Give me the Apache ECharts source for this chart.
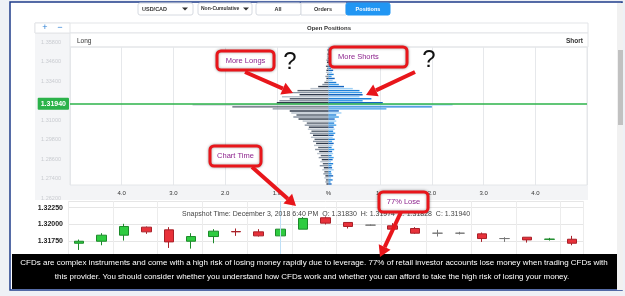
<!DOCTYPE html>
<html><head><meta charset="utf-8">
<script src="https://cdn.jsdelivr.net/npm/echarts@6/dist/echarts.min.js"></script>
<style>html,body{margin:0;padding:0;background:#eef1f6;}#c{width:625px;height:296px;}</style>
</head><body><div id="c"></div>
<script>
// ---------- DATA ----------
const priceLevels = ['1.27000','1.27125','1.27250','1.27375','1.27500','1.27625','1.27750','1.27875','1.28000','1.28125',
 '1.28250','1.28375','1.28500','1.28625','1.28750','1.28875','1.29000','1.29125','1.29250','1.29375',
 '1.29500','1.29625','1.29750','1.29875','1.30000','1.30125','1.30250','1.30375','1.30500','1.30625',
 '1.30750','1.30875','1.31000','1.31125','1.31250','1.31375','1.31500','1.31625','1.31750','1.31875',
 '1.32000','1.32125','1.32250','1.32375','1.32500','1.32625','1.32750','1.32875','1.33000','1.33125',
 '1.33250','1.33375','1.33500','1.33625','1.33750','1.33875','1.34000','1.34125','1.34250','1.34375',
 '1.34500','1.34625','1.34750','1.34875','1.35000','1.35125','1.35250','1.35375'];
const longPct = [0.04,0.06,0.05,0.08,0.06,0.10,0.08,0.12,0.09,0.17,
 0.11,0.16,0.13,0.19,0.15,0.22,0.18,0.26,0.20,0.28,
 0.24,0.30,0.27,0.34,0.30,0.36,0.33,0.40,0.38,0.46,
 0.42,0.50,0.58,0.68,0.62,0.72,0.75,1.08,1.86,2.63,
 1.00,0.95,0.75,0.90,0.56,0.75,0.60,0.35,0.20,0.12,
 0.08,0.05,0.04,0.06,0.03,0.05,0.04,0.03,0.05,0.02,
 0.03,0.04,0.02,0.03,0.02,0.01,0.02,0.01];
const shortPct = [0.06,0.04,0.08,0.05,0.09,0.06,0.05,0.10,0.07,0.06,
 0.09,0.05,0.08,0.10,0.06,0.09,0.07,0.11,0.06,0.08,
 0.10,0.07,0.12,0.08,0.10,0.13,0.09,0.12,0.10,0.15,
 0.11,0.15,0.12,0.20,0.15,0.25,0.20,1.12,2.00,2.40,
 1.05,0.66,0.83,0.60,0.66,0.65,0.60,0.47,0.30,0.20,
 0.15,0.08,0.12,0.06,0.10,0.07,0.09,0.05,0.08,0.06,
 0.10,0.05,0.07,0.09,0.06,0.08,0.05,0.07];
const priceTicks = ['1.26200','1.27400','1.28600','1.29800','1.31000','1.32200','1.33400','1.34600','1.35800'];
const pctLabels = ['','4.0','3.0','2.0','1.0','%','1.0','2.0','3.0','4.0',''];
const currentPrice = 1.31940;
const currentPriceLabel = '1.31940';

const candleTimes = ['20:00','21:00','22:00','23:00','00:00','01:00','02:00','03:00','04:00','05:00','06:00','07:00',
 '08:00','09:00','10:00','11:00','12:00','13:00','14:00','15:00','16:00','17:00','18:00'];
const candleOpen  = [1.3172,1.3175,1.3184,1.3196,1.3192,1.3175,1.3182,1.31895,1.3189,1.3183,1.3193,1.3210,1.3203,1.3199,1.3198,1.3194,1.3187,1.3187,1.3186,1.3179,1.3181,1.31778,1.3178];
const candleClose = [1.3175,1.3184,1.3197,1.3189,1.3174,1.3182,1.3190,1.3189,1.3183,1.3193,1.3209,1.3202,1.3197,1.3199,1.3193,1.3187,1.3187,1.3187,1.3179,1.3179,1.3177,1.31782,1.3172];
const candleLow   = [1.3162,1.3169,1.3176,1.3186,1.3165,1.3164,1.3172,1.3183,1.3182,1.3181,1.3193,1.3200,1.3194,1.3198,1.3193,1.3186,1.3182,1.3185,1.3174,1.3174,1.3173,1.3176,1.3169];
const candleHigh  = [1.31775,1.3187,1.3201,1.3197,1.3196,1.3187,1.3193,1.3194,1.3193,1.3197,1.3211,1.3212,1.3203,1.3200,1.3202,1.3196,1.3192,1.3189,1.3188,1.3181,1.3181,1.3180,1.3183];
const snapshotText = 'Snapshot Time: December 3, 2018 6:40 PM  O: 1.31830  H: 1.31974  L: 1.31828  C: 1.31940';
const disclaimer1 = 'CFDs are complex instruments and come with a high risk of losing money rapidly due to leverage. 77% of retail investor accounts lose money when trading CFDs with';
const disclaimer2 = 'this provider. You should consider whether you understand how CFDs work and whether you can afford to take the high risk of losing your money.';

// ---------- BUILD ----------
const FF = '"Liberation Sans", Arial, sans-serif';
const longColors = ['#2f3a4b','#8a95a3','#56616f','#b9c2cc'];
const shortColors = ['#1565c0','#3c9de8','#1e80d8','#9dd0f6'];
const RED = '#e8161b';

const candleData = candleOpen.map((o, i) => {
  const item = { value: [o, candleClose[i], candleLow[i], candleHigh[i]] };
  if (o === candleClose[i]) item.itemStyle = { color: '#888', color0: '#888', borderColor: '#777', borderColor0: '#777' };
  return item;
});

function T(x, y, text, o) {
  o = o || {};
  return { type: 'text', x: x, y: y, z: o.z || 50, silent: true,
    style: { text: text, fill: o.fill || '#333', font: (o.weight || 'normal') + ' ' + (o.size || 7) + 'px ' + FF,
      align: o.align || 'left', verticalAlign: 'middle', textAlign: o.align || 'left', textVerticalAlign: 'middle' } };
}
function R(x, y, w, h, fill, stroke, o) {
  o = o || {};
  return { type: 'rect', z: o.z === undefined ? -5 : o.z, silent: true, shape: { x: x, y: y, width: w, height: h, r: o.r || 0 },
    style: { fill: fill || 'none', stroke: stroke || 'none', lineWidth: o.lw || 1, shadowBlur: o.sb || 0, shadowColor: o.sc || 'transparent' } };
}
function arrow(x1, y1, x2, y2) {
  const a = Math.atan2(y2 - y1, x2 - x1), L = 11, W = 6.5;
  const bx = x2 - L * Math.cos(a), by = y2 - L * Math.sin(a);
  const px = -Math.sin(a) * W, py = Math.cos(a) * W;
  return [
    { type: 'line', z: 100, silent: true, shape: { x1: x1, y1: y1, x2: bx, y2: by }, style: { stroke: RED, lineWidth: 4 } },
    { type: 'polygon', z: 100, silent: true, shape: { points: [[x2, y2], [bx + px, by + py], [bx - px, by - py]] }, style: { fill: RED } }
  ];
}
function note(x, y, w, h, text, align) {
  return [
    R(x, y, w, h, '#fff', RED, { z: 100, r: 4, lw: 3, sb: 3, sc: 'rgba(0,0,0,0.35)' }),
    T(align === 'left' ? x + 8 : x + w / 2, y + h / 2, text, { z: 101, fill: '#8e248e', size: 7.5, align: align || 'center' })
  ];
}
function tri(x, y) {
  return { type: 'polygon', z: 50, silent: true, shape: { points: [[x - 3, y - 1.5], [x + 3, y - 1.5], [x, y + 1.5]] }, style: { fill: '#333' } };
}

const graphics = [
  R(10, 2, 612, 288, '#ffffff', '#1f3d8a', { z: -10, lw: 1.5 }),
  // top controls
  R(138, 3, 55, 12, '#fff', '#d6dae1', { r: 2 }), T(142, 9, 'USD/CAD', { size: 5.5, weight: 'bold' }), tri(185, 9),
  R(198, 3, 54, 12, '#fff', '#d6dae1', { r: 2 }), T(201, 9, 'Non-Cumulative', { size: 5, weight: 'bold' }), tri(246, 9),
  R(256, 3, 45, 12, '#fff', '#d6dae1', { r: 2 }), T(278, 9, 'All', { size: 5.5, weight: 'bold', align: 'center' }),
  R(301, 3, 45, 12, '#fff', '#d6dae1'), T(323, 9, 'Orders', { size: 5.5, weight: 'bold', align: 'center' }),
  R(346, 3, 44, 12, '#2196f3', '#2196f3', { r: 2 }), T(368, 9, 'Positions', { size: 5.5, weight: 'bold', align: 'center', fill: '#fff' }),
  // open positions panel
  R(35, 23, 35, 177, '#f4f5f7', null),
  R(35, 23, 553, 10, '#fff', '#e3e5e8'),
  R(35, 23, 35, 10, '#fff', '#e3e5e8'),
  T(45, 28, '+', { size: 9, fill: '#2a7fd4', align: 'center' }), T(60, 28, '\u2212', { size: 9, fill: '#2a7fd4', align: 'center' }),
  T(329, 28, 'Open Positions', { size: 6, weight: 'bold', align: 'center' }),
  R(70, 33, 518, 14, '#fff', '#e3e5e8'),
  T(77, 41, 'Long', { size: 6.5 }), T(583, 41, 'Short', { size: 6.5, weight: 'bold', align: 'right' }),
  R(70, 185, 518, 15, '#f3f4f6', null),
  R(70, 47, 517, 138, 'none', '#e4e6e9', { z: 1 }),
  // candles panel
  T(182, 214, snapshotText, { size: 7, fill: '#444' }),
  // scrollbar
  R(617, 3, 6, 287, '#f1f1f1', null, { z: 60 }), R(618, 50, 5, 75, '#c1c1c1', null, { z: 61 }),
  // disclaimer footer
  R(12, 254, 605, 35, '#000', null, { z: 90 }),
  T(314, 263, disclaimer1, { size: 8, fill: '#fff', align: 'center', z: 91 }),
  T(312, 277, disclaimer2, { size: 8, fill: '#fff', align: 'center', z: 91 }),
  // annotations
  ...note(217, 51, 57, 19, 'More Longs'),
  ...note(330, 47, 77, 20, 'More Shorts', 'left'),
  ...note(210, 146, 51, 20, 'Chart Time'),
  ...note(379, 192, 49, 20, '77% Lose'),
  T(290, 62, '?', { size: 24, fill: '#111', align: 'center', z: 101 }),
  T(429, 60, '?', { size: 24, fill: '#111', align: 'center', z: 101 }),
  ...arrow(245, 72, 293, 93),
  ...arrow(415, 72, 366, 95),
  ...arrow(252, 167, 296, 206),
  ...arrow(401, 212, 380, 257)
];

const chart = echarts.init(document.getElementById('c'), null, { renderer: 'canvas' });
chart.setOption({
  animation: false,
  backgroundColor: 'transparent',
  textStyle: { fontFamily: FF },
  grid: [
    { left: 70, right: 38, top: 47, bottom: 111 },
    { left: 70, right: 38, top: 42, bottom: 98 },
    { left: 68, right: 42, top: 201, bottom: 38 }
  ],
  xAxis: [
    { gridIndex: 0, type: 'value', min: -5, max: 5, interval: 1,
      axisLine: { show: false }, axisTick: { show: false },
      splitLine: { lineStyle: { color: '#e6e8eb' } },
      axisLabel: { fontSize: 6, color: '#333', margin: 5, formatter: v => pctLabels[Math.round(v) + 5] } },
    { gridIndex: 1, type: 'value', min: 0, max: 1, show: false },
    { gridIndex: 2, type: 'category', data: candleTimes, boundaryGap: true,
      axisLine: { show: false }, axisTick: { show: false }, axisLabel: { show: false },
      splitLine: { show: true, interval: 1, lineStyle: { color: '#ececec' } } }
  ],
  yAxis: [
    { gridIndex: 0, type: 'category', data: priceLevels, show: false },
    { gridIndex: 1, type: 'category', data: priceTicks, boundaryGap: false,
      axisLine: { show: false }, axisTick: { show: false }, splitLine: { show: false },
      axisLabel: { fontSize: 5.5, color: '#c9ccd1', margin: 9 } },
    { gridIndex: 1, type: 'value', min: 1.262, max: 1.358, show: false },
    { gridIndex: 2, type: 'value', min: 1.315, max: 1.3235, interval: 0.0025,
      axisLine: { show: false }, axisTick: { show: false },
      splitLine: { lineStyle: { color: '#e6e6e6' } },
      axisLabel: { fontSize: 7, fontWeight: 'bold', color: '#222', margin: 5, showMinLabel: false, showMaxLabel: false,
        formatter: v => v.toFixed(5) } }
  ],
  series: [
    { type: 'bar', name: 'Long', xAxisIndex: 0, yAxisIndex: 0, data: longPct.map(v => -v),
      barWidth: 1.4, barGap: '-100%', silent: true,
      itemStyle: { color: p => longColors[p.dataIndex % 4] } },
    { type: 'bar', name: 'Short', xAxisIndex: 0, yAxisIndex: 0, data: shortPct,
      barWidth: 1.4, barGap: '-100%', silent: true,
      itemStyle: { color: p => shortColors[p.dataIndex % 4] } },
    { type: 'line', xAxisIndex: 1, yAxisIndex: 2, data: [], silent: true,
      markLine: { symbol: 'none', silent: true, z: 5,
        lineStyle: { color: '#2db34a', width: 1.5, type: 'solid' },
        label: { position: 'start', formatter: currentPriceLabel, backgroundColor: '#2bb24a', color: '#fff',
          fontWeight: 'bold', fontSize: 7, padding: [3, 3, 2, 3], distance: 1, borderRadius: 1 },
        data: [{ yAxis: currentPrice }] } },
    { type: 'candlestick', xAxisIndex: 2, yAxisIndex: 3, data: candleData, barWidth: 10, silent: true,
      itemStyle: { color: '#2ecc40', color0: '#e8313a', borderColor: '#1c8a2a', borderColor0: '#a82028', borderWidth: 1 },
      markLine: { symbol: 'none', silent: true, label: { show: false }, lineStyle: { color: '#bfe0f7', width: 1, type: 'solid' },
        data: [{ xAxis: 9 }] } }
  ],
  graphic: { elements: graphics }
});
</script></body></html>
